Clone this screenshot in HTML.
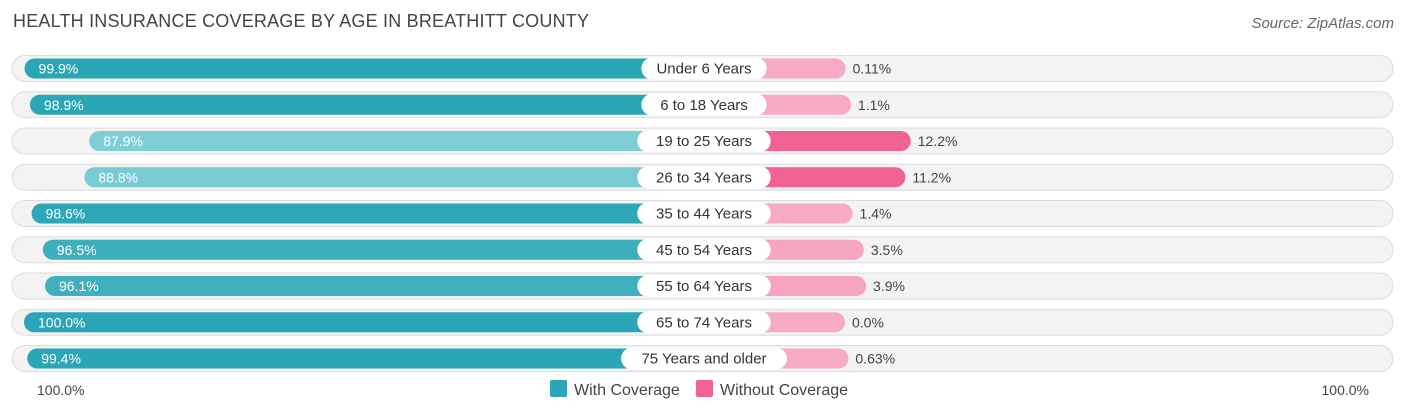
<!DOCTYPE html>
<html><head><meta charset="utf-8"><style>
body{margin:0;background:#fff;font-family:"Liberation Sans",Arial,sans-serif;}
#wrap{position:relative;width:1406px;height:414px;overflow:hidden;}
.title{position:absolute;left:13px;top:11px;font-size:18px;color:#444;letter-spacing:0.2px}
.src{position:absolute;right:12px;top:15px;font-size:15px;color:#666;font-style:italic}
</style></head><body>
<div id="wrap">
<div class="title">HEALTH INSURANCE COVERAGE BY AGE IN BREATHITT COUNTY</div>
<div class="src">Source: ZipAtlas.com</div>
<svg id="svg" width="1406" height="414" style="position:absolute;left:0;top:0"></svg>
</div>
<script>
const categories=["Under 6 Years","6 to 18 Years","19 to 25 Years","26 to 34 Years","35 to 44 Years","45 to 54 Years","55 to 64 Years","65 to 74 Years","75 Years and older"];
const withCov=[99.9,98.9,87.9,88.8,98.6,96.5,96.1,100.0,99.4];
const withoutCov=[0.11,1.1,12.2,11.2,1.4,3.5,3.9,0.0,0.63];
const withLabels=["99.9%","98.9%","87.9%","88.8%","98.6%","96.5%","96.1%","100.0%","99.4%"];
const withoutLabels=["0.11%","1.1%","12.2%","11.2%","1.4%","3.5%","3.9%","0.0%","0.63%"];
const NS="http://www.w3.org/2000/svg";
const svg=document.getElementById('svg');
const cx=704, off=141, scale=5.39, y0=68.5, step=36.25, bh=20;
function xL(v){return cx-off-v*scale;}
function xR(v){return cx+off+v*scale;}
function yC(i){return y0+i*step;}
function mix(a,b,t){t=Math.max(0,Math.min(1,t));const p=s=>[1,3,5].map(k=>parseInt(s.substr(k,2),16));const A=p(a),B=p(b);return 'rgb('+A.map((x,i)=>Math.round(x+(B[i]-x)*t)).join(',')+')';}
function el(tag,attrs,name,inter){const e=document.createElementNS(NS,tag);for(const k in attrs)e.setAttribute(k,attrs[k]);


svg.appendChild(e);return e;}
categories.forEach((c,i)=>{
 const y=yC(i);
 el('rect',{x:12,y:y-13,width:1381,height:26,rx:13,fill:'#f3f3f3',stroke:'#dcdcdc','stroke-width':1},'row-background','false');
 const wl=xL(withCov[i]);
 el('rect',{x:wl,y:y-bh/2,width:cx-wl,height:bh,rx:10,fill:mix('#86d0d8','#2aa6b6',(withCov[i]-87)/12)},'bar-with-coverage','true');
 const wr=xR(withoutCov[i]);
 el('rect',{x:cx,y:y-bh/2,width:wr-cx,height:bh,rx:10,fill:mix('#f7abc3','#f06292',(withoutCov[i]-3)/8)},'bar-without-coverage','true');
 const t1=el('text',{x:wl+14,y:y+5,'font-size':14,fill:'#fff'},'with-coverage-value','false');t1.textContent=withLabels[i];
 const t2=el('text',{x:wr+7,y:y+5,'font-size':14,fill:'#444'},'without-coverage-value','false');t2.textContent=withoutLabels[i];
 const lw=c.length*8.1+20;
 el('rect',{x:cx-lw/2,y:y-11,width:lw,height:22,rx:11,fill:'#fff'},'category-label-pill','false');
 const t3=el('text',{x:cx,y:y+5,'font-size':15,fill:'#333','text-anchor':'middle'},'category-label','false');t3.textContent=c;
});
const a1=el('text',{x:37,y:395,'font-size':14,fill:'#444'},'left-axis-label','false');a1.textContent="100.0%";
const a2=el('text',{x:1369,y:395,'font-size':14,fill:'#444','text-anchor':'end'},'right-axis-label','false');a2.textContent="100.0%";
el('rect',{x:550,y:380,width:17,height:17,rx:2,fill:'#2aa6b6'},'legend-swatch-with','false');
const l1=el('text',{x:574,y:395,'font-size':16,fill:'#444'},'legend-with-coverage','true');l1.textContent="With Coverage";
el('rect',{x:696,y:380,width:17,height:17,rx:2,fill:'#f06292'},'legend-swatch-without','false');
const l2=el('text',{x:720,y:395,'font-size':16,fill:'#444'},'legend-without-coverage','true');l2.textContent="Without Coverage";
</script>
</body></html>
